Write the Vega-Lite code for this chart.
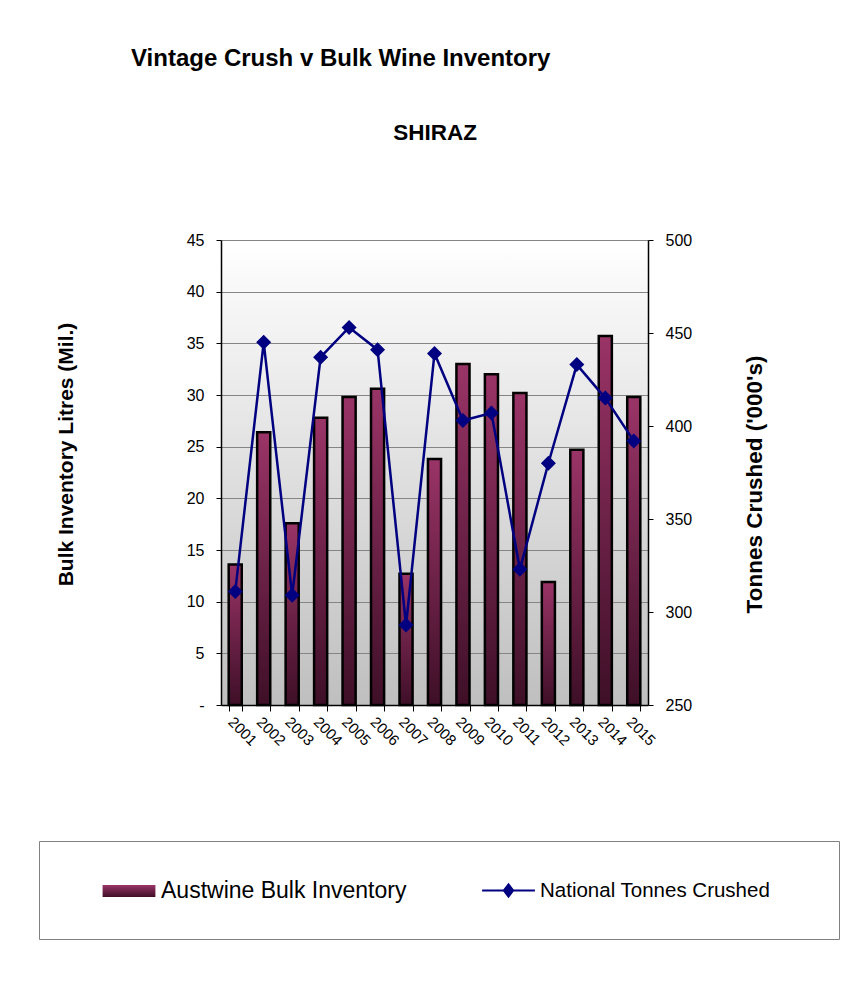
{
  "$schema": "https://vega.github.io/schema/vega-lite/v6.json",
  "width": 427,
  "height": 465,
  "autosize": {"type": "none"},
  "padding": {"left": 221, "top": 240, "right": 199, "bottom": 287},
  "background": "white",
  "title": {
    "text": "Vintage Crush v Bulk Wine Inventory",
    "anchor": "start",
    "frame": "group",
    "dx": -90,
    "offset": 50,
    "fontSize": 24,
    "fontWeight": "bold",
    "color": "black",
    "font": "Liberation Sans"
  },
  "view": {
    "stroke": null,
    "fill": {
      "gradient": "linear", "x1": 0, "y1": 0, "x2": 0, "y2": 1,
      "stops": [{"offset": 0, "color": "#ffffff"}, {"offset": 1, "color": "#bfbfbf"}]
    }
  },
  "datasets": {
    "shiraz": [
      {"year": "2001", "inventory": 13.6, "crushed": 311},
      {"year": "2002", "inventory": 26.4, "crushed": 445},
      {"year": "2003", "inventory": 17.6, "crushed": 309},
      {"year": "2004", "inventory": 27.8, "crushed": 437},
      {"year": "2005", "inventory": 29.8, "crushed": 453},
      {"year": "2006", "inventory": 30.6, "crushed": 441},
      {"year": "2007", "inventory": 12.7, "crushed": 293},
      {"year": "2008", "inventory": 23.8, "crushed": 439},
      {"year": "2009", "inventory": 33.0, "crushed": 403},
      {"year": "2010", "inventory": 32.0, "crushed": 407},
      {"year": "2011", "inventory": 30.2, "crushed": 323},
      {"year": "2012", "inventory": 11.9, "crushed": 380},
      {"year": "2013", "inventory": 24.7, "crushed": 433},
      {"year": "2014", "inventory": 35.7, "crushed": 415},
      {"year": "2015", "inventory": 29.8, "crushed": 392}
    ]
  },
  "data": {"name": "shiraz"},
  "layer": [
    {
      "mark": {
        "type": "bar",
        "fill": {
          "gradient": "linear", "x1": 0, "y1": 0, "x2": 0, "y2": 1,
          "stops": [{"offset": 0, "color": "#9a3467"}, {"offset": 1, "color": "#3e0f27"}]
        },
        "stroke": "black",
        "strokeWidth": 2.5
      },
      "encoding": {
        "x": {
          "field": "year", "type": "ordinal",
          "scale": {"paddingInner": 0.54, "paddingOuter": 0.27},
          "axis": {
            "title": null,
            "labelAngle": 45,
            "tickBand": "extent",
            "tickSize": 6,
            "tickColor": "black",
            "domainColor": "black",
            "domainWidth": 1.5,
            "labelFontSize": 15,
            "labelPadding": 3,
            "labelColor": "black",
            "grid": false
          }
        },
        "y": {
          "field": "inventory", "type": "quantitative",
          "scale": {"domain": [0, 45], "nice": false},
          "axis": {
            "title": "Bulk Inventory Litres (Mil.)",
            "values": [0, 5, 10, 15, 20, 25, 30, 35, 40, 45],
            "labelExpr": "datum.value === 0 ? '-' : datum.label",
            "grid": true,
            "gridColor": "#858585",
            "gridWidth": 1.2,
            "domainColor": "black",
            "domainWidth": 1.5,
            "tickColor": "black",
            "tickSize": 5,
            "labelPadding": 12,
            "labelFontSize": 16,
            "labelColor": "black",
            "titleFontSize": 21,
            "titleFontWeight": "bold",
            "titleColor": "black",
            "titlePadding": 110,
            "titleY": 214
          }
        },
        "strokeDash": {
          "datum": "Austwine Bulk Inventory",
          "scale": {"range": [[1, 0]]},
          "legend": {
            "title": " ",
            "titleOrient": "right",
            "titlePadding": 412,
            "titleFontSize": 35,
            "titleBaseline": "top",
            "orient": "none",
            "legendX": -182,
            "legendY": 601,
            "padding": 21,
            "strokeColor": "#808080",
            "fillColor": null,
            "symbolType": "M-0.96,-0.22H0.96V0.22H-0.96Z",
            "symbolSize": 3025,
            "symbolOffset": 40,
            "symbolStrokeColor": "black",
            "symbolStrokeWidth": 2.5,
            "labelOffset": 3,
            "labelFontSize": 23,
            "labelLimit": 400,
            "labelColor": "black",
            "labelFont": "Liberation Sans"
          }
        }
      }
    },
    {
      "mark": {
        "type": "line",
        "strokeWidth": 2.5,
        "point": {"shape": "diamond", "size": 225, "filled": true}
      },
      "encoding": {
        "x": {
          "field": "year", "type": "ordinal",
          "scale": {"paddingInner": 0.54, "paddingOuter": 0.27},
          "axis": {
            "orient": "top",
            "title": "SHIRAZ",
            "labels": false,
            "ticks": false,
            "domain": false,
            "grid": false,
            "titlePadding": 101,
            "titleFontSize": 22.5,
            "titleFontWeight": "bold",
            "titleColor": "black",
            "titleBaseline": "alphabetic"
          }
        },
        "y": {
          "field": "crushed", "type": "quantitative",
          "scale": {"domain": [250, 500], "nice": false, "zero": false},
          "axis": {
            "orient": "right",
            "title": "Tonnes Crushed ('000's)",
            "values": [250, 300, 350, 400, 450, 500],
            "grid": false,
            "domainColor": "black",
            "domainWidth": 1.5,
            "tickColor": "black",
            "tickSize": 5,
            "labelPadding": 12,
            "labelFontSize": 16,
            "labelColor": "black",
            "titleFontSize": 22.5,
            "titleFontWeight": "bold",
            "titleColor": "black",
            "titleAngle": 270,
            "titlePadding": 75,
            "titleY": 244
          }
        },
        "color": {
          "datum": "National Tonnes Crushed",
          "scale": {"range": ["#000080"]},
          "legend": {
            "title": null,
            "orient": "none",
            "legendX": 259,
            "legendY": 622,
            "padding": 0,
            "strokeColor": null,
            "fillColor": null,
            "symbolType": "M-0.96,0H0.96M0,-0.22L0.17,0L0,0.22L-0.17,0Z",
            "symbolSize": 3025,
            "symbolOffset": 0,
            "symbolFillColor": "#000080",
            "symbolStrokeColor": "#000080",
            "symbolStrokeWidth": 2,
            "labelOffset": 3,
            "labelFontSize": 20.5,
            "labelLimit": 400,
            "labelColor": "black",
            "labelFont": "Liberation Sans"
          }
        }
      }
    }
  ],
  "resolve": {"scale": {"y": "independent"}, "axis": {"x": "independent"}},
  "config": {
    "font": "Liberation Sans",
    "axis": {"labelFont": "Liberation Sans", "titleFont": "Liberation Sans"}
  }
}
